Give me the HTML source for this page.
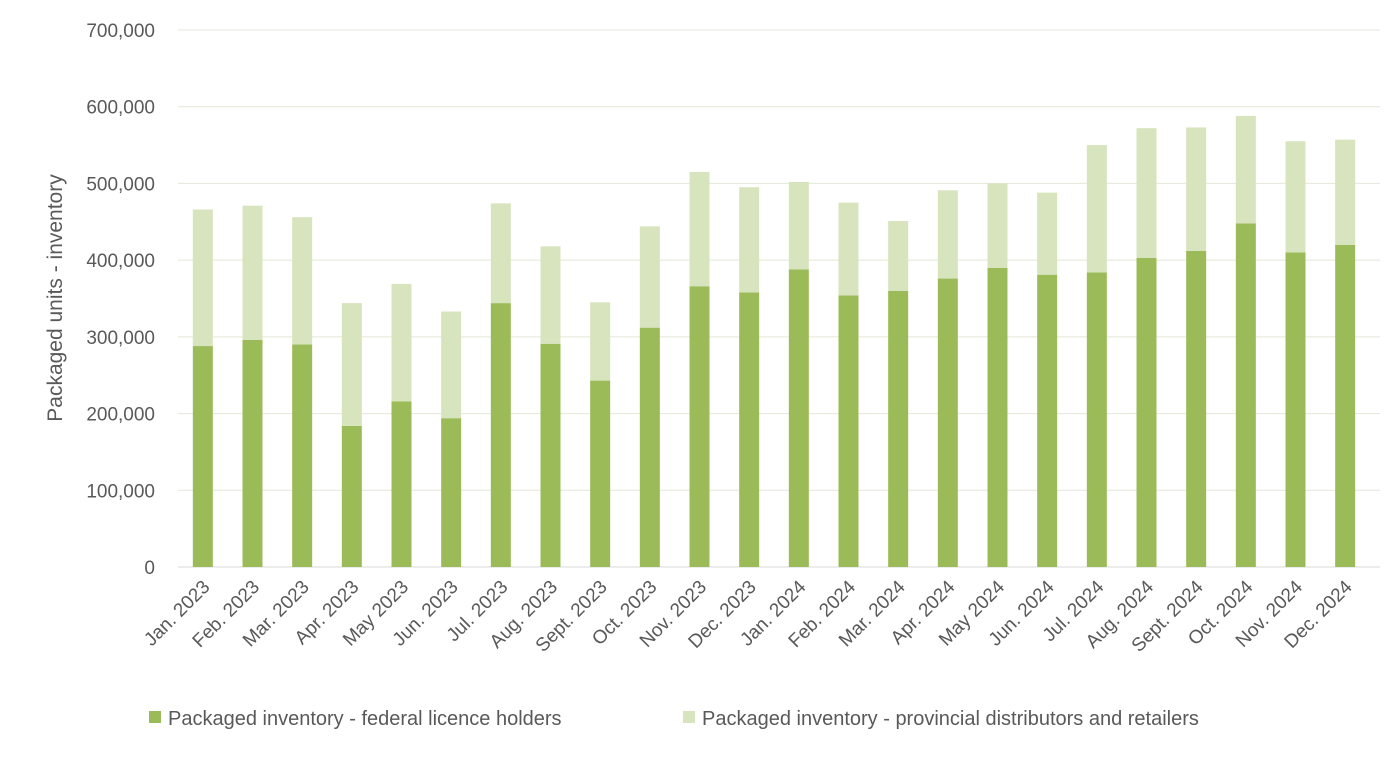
<!DOCTYPE html>
<html><head><meta charset="utf-8"><style>
body{margin:0;background:#fff;}
svg text{font-family:"Liberation Sans",sans-serif;fill:#595959;}
</style></head><body>
<svg id="c" width="1400" height="758"></svg>
<script>
const categories=["Jan. 2023","Feb. 2023","Mar. 2023","Apr. 2023","May 2023","Jun. 2023","Jul. 2023","Aug. 2023","Sept. 2023","Oct. 2023","Nov. 2023","Dec. 2023","Jan. 2024","Feb. 2024","Mar. 2024","Apr. 2024","May 2024","Jun. 2024","Jul. 2024","Aug. 2024","Sept. 2024","Oct. 2024","Nov. 2024","Dec. 2024"];
const federal=[288000,296000,290000,184000,216000,194000,344000,291000,243000,312000,366000,358000,388000,354000,360000,376000,390000,381000,384000,403000,412000,448000,410000,420000];
const provincial=[178000,175000,166000,160000,153000,139000,130000,127000,102000,132000,149000,137000,114000,121000,91000,115000,110000,107000,166000,169000,161000,140000,145000,137000];
const yTicks=[0,100000,200000,300000,400000,500000,600000,700000];
const tickLabels=["0","100,000","200,000","300,000","400,000","500,000","600,000","700,000"];
const NS="http://www.w3.org/2000/svg";
const svg=document.getElementById('c');
const L=178,R=1370,T=30,B=567,yMax=700000;
const y=v=>B-(v/yMax)*(B-T);
const step=(R-L)/categories.length;
const x=i=>L+step*(i+0.5);
const bw=20;
function mk(t,a){const e=document.createElementNS(NS,t);for(const k in a)e.setAttribute(k,a[k]);svg.appendChild(e);return e;}
yTicks.forEach((v,i)=>{
 const g=mk('line',{x1:L,x2:1380,y1:y(v),y2:y(v),stroke:i==0?'#d9d9d9':'#e3e8d8','stroke-width':1});
 
 
 const t=mk('text',{x:155,y:y(v)+7,'text-anchor':'end','font-size':19});
 t.textContent=tickLabels[i];
 
 
});
categories.forEach((c,i)=>{
 const f=mk('rect',{x:x(i)-bw/2,y:y(federal[i]),width:bw,height:B-y(federal[i]),fill:'#9bbb59'});
 
 
 const tot=federal[i]+provincial[i];
 const p=mk('rect',{x:x(i)-bw/2,y:y(tot),width:bw,height:y(federal[i])-y(tot),fill:'#d7e4bd'});
 
 
 const t=mk('text',{x:x(i)+8,y:588,'text-anchor':'end','font-size':19,transform:`rotate(-45 ${x(i)+8} 588)`});
 t.textContent=c;
 
 
});
const yt=mk('text',{x:62,y:298,'text-anchor':'middle','font-size':21,transform:'rotate(-90 62 298)'});
yt.textContent='Packaged units - inventory';


const l1=mk('rect',{x:149,y:711,width:12,height:12,fill:'#9bbb59'});


const lt1=mk('text',{x:168,y:725,'font-size':20});
lt1.textContent='Packaged inventory - federal licence holders';


const l2=mk('rect',{x:683,y:711,width:12,height:12,fill:'#d7e4bd'});


const lt2=mk('text',{x:702,y:725,'font-size':20});
lt2.textContent='Packaged inventory - provincial distributors and retailers';


</script>
</body></html>
